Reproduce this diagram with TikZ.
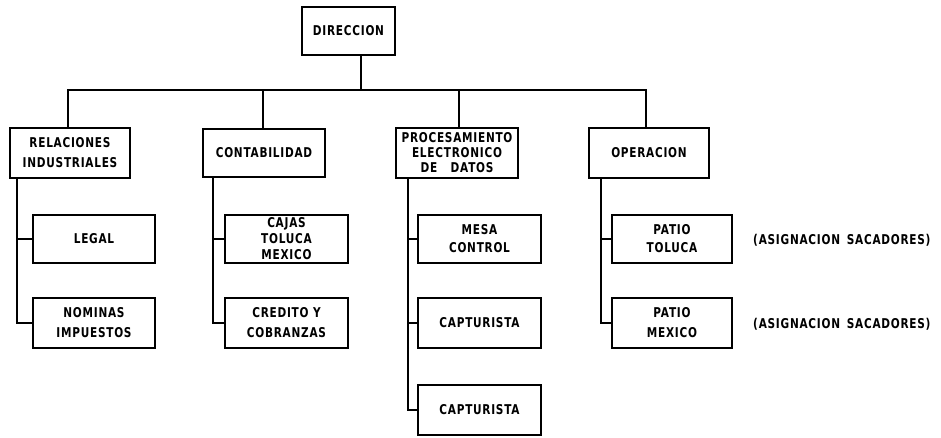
\documentclass[tikz,border=0pt]{standalone}
\usepackage{fontspec}
\setmainfont{DejaVu Sans}[FakeStretch=0.78, LetterSpace=5.5]
\begin{document}
\begin{tikzpicture}[x=1pt,y=-1pt,
  box/.style={draw, line width=1.3pt, align=center, inner sep=0pt,
    font=\bfseries\fontsize{13.5}{15}\selectfont},
  conn/.style={line width=1.3pt},
  note/.style={anchor=west, inner sep=0pt, font=\bfseries\fontsize{13.5}{15}\selectfont}]
\useasboundingbox (0,0) rectangle (941,437);
% top
\node[box, minimum width=93pt, minimum height=48pt] (dir) at (348.5,31) {DIRECCION};
% level 1
\node[box, minimum width=120pt, minimum height=50pt] (ri) at (70,153) {RELACIONES\\[5pt]INDUSTRIALES};
\node[box, minimum width=122pt, minimum height=48pt] (cont) at (264,153) {CONTABILIDAD};
\node[box, minimum width=122pt, minimum height=50pt] (ped) at (457,153) {PROCESAMIENTO\\ELECTRONICO\\DE\quad DATOS};
\node[box, minimum width=120pt, minimum height=50pt] (op) at (649,153) {OPERACION};
% bus
\coordinate (b0) at (361,90);
\coordinate (bl) at (68,90);
\coordinate (br) at (646,90);
\draw[conn] (dir.south -| b0) -- (b0);
\draw[conn] (ri.north -| bl) |- (b0) -| (op.north -| br);
\draw[conn] (cont.north -| 263,90) -- (263,90);
\draw[conn] (ped.north -| 459,90) -- (459,90);
% RI children
\node[box, minimum width=122pt, minimum height=48pt] (legal) at (94,239) {LEGAL};
\node[box, minimum width=122pt, minimum height=50pt] (nom) at (94,323) {NOMINAS\\[5pt]IMPUESTOS};
\coordinate (s1) at (17,0);
\draw[conn] (ri.south -| s1) |- (nom.west);
\draw[conn] (s1 |- legal.west) -- (legal.west);
% CONT children
\node[box, minimum width=123pt, minimum height=48pt] (cajas) at (286.5,239) {CAJAS\\[1pt]TOLUCA\\[1pt]MEXICO};
\node[box, minimum width=123pt, minimum height=50pt] (cred) at (286.5,323) {CREDITO Y\\[5pt]COBRANZAS};
\coordinate (s2) at (213,0);
\draw[conn] (cont.south -| s2) |- (cred.west);
\draw[conn] (s2 |- cajas.west) -- (cajas.west);
% PED children
\node[box, minimum width=123pt, minimum height=48pt] (mesa) at (479.5,239) {MESA\\[3pt]CONTROL};
\node[box, minimum width=123pt, minimum height=50pt] (cap1) at (479.5,323) {CAPTURISTA};
\node[box, minimum width=123pt, minimum height=50pt] (cap2) at (479.5,410) {CAPTURISTA};
\coordinate (s3) at (408,0);
\draw[conn] (ped.south -| s3) |- (cap2.west);
\draw[conn] (s3 |- mesa.west) -- (mesa.west);
\draw[conn] (s3 |- cap1.west) -- (cap1.west);
% OP children
\node[box, minimum width=120pt, minimum height=48pt] (pt) at (672,239) {PATIO\\[3pt]TOLUCA};
\node[box, minimum width=120pt, minimum height=50pt] (pm) at (672,323) {PATIO\\[5pt]MEXICO};
\coordinate (s4) at (601,0);
\draw[conn] (op.south -| s4) |- (pm.west);
\draw[conn] (s4 |- pt.west) -- (pt.west);
% notes
\node[note] (n1) at (753,240) {(ASIGNACION\enspace SACADORES)};
\node[note] (n2) at (753,324) {(ASIGNACION\enspace SACADORES)};
\end{tikzpicture}
\end{document}
